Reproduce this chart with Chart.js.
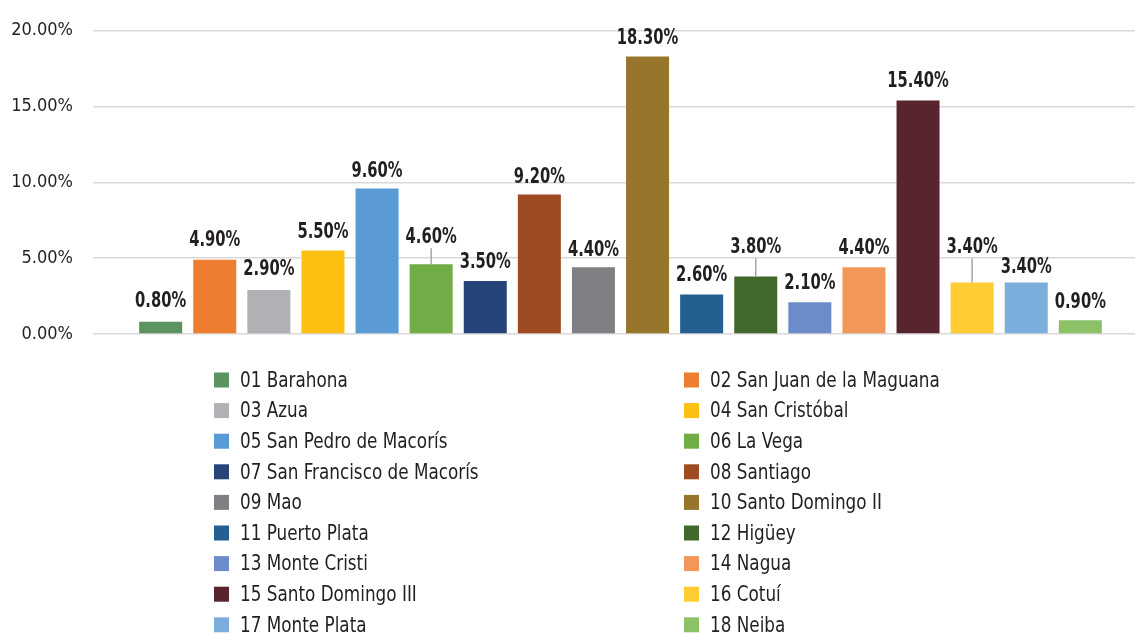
<!DOCTYPE html>
<html lang="es">
<head>
<meta charset="UTF-8">
<title>Distribución por regional</title>
<style>
  html, body { margin: 0; padding: 0; background: #ffffff; overflow: hidden; }
  .chartBox { position: relative; width: 1148px; height: 634px; }
</style>
</head>
<body>
<div class="chartBox">
  <canvas id="myChart"></canvas>
</div>

<script src="https://cdn.jsdelivr.net/npm/chart.js"></script>
<script>
  // datos
  const regionales = [
    '01 Barahona', '02 San Juan de la Maguana', '03 Azua', '04 San Cristóbal',
    '05 San Pedro de Macorís', '06 La Vega', '07 San Francisco de Macorís', '08 Santiago',
    '09 Mao', '10 Santo Domingo II', '11 Puerto Plata', '12 Higüey',
    '13 Monte Cristi', '14 Nagua', '15 Santo Domingo III', '16 Cotuí',
    '17 Monte Plata', '18 Neiba'
  ];
  const porcentajes = [0.8, 4.9, 2.9, 5.5, 9.6, 4.6, 3.5, 9.2, 4.4, 18.3, 2.6, 3.8, 2.1, 4.4, 15.4, 3.4, 3.4, 0.9];
  const yTicks = [0, 5, 10, 15, 20];

  const colores = [
    '#5B9461', '#ED7D31', '#B0B1B4', '#FCC012', '#5B9BD5', '#70AD47', '#264478', '#9E4A23',
    '#808084', '#97752B', '#255E91', '#43682B', '#6B8CC8', '#F2975A', '#58242D', '#FFCD33',
    '#7CAEDD', '#8CC168'
  ];
  // distancia de la etiqueta sobre la barra (las que llevan línea guía van más arriba)
  const subida = [20, 19, 20, 18, 17, 27, 18, 17, 17, 18, 19, 29, 19, 19, 19, 35, 15, 18];

  const FUENTE = "'DejaVu Sans Condensed', 'DejaVu Sans', sans-serif";
  const TEXTO = '#231F20';

  // texto estrechado para parecerse a la fuente condensada del original
  function textoEstrecho(ctx, txt, x, y, escala) {
    ctx.save();
    ctx.translate(x, y);
    ctx.scale(escala, 1);
    ctx.fillText(txt, 0, 0);
    ctx.restore();
  }

  const etiquetas = {
    id: 'etiquetas',
    afterDatasetsDraw(chart) {
      const ctx = chart.ctx;
      ctx.save();
      chart.data.datasets.forEach((ds, i) => {
        const bar = chart.getDatasetMeta(i).data[0];
        const yTxt = bar.y - subida[i];
        if (subida[i] > 24) {
          ctx.strokeStyle = '#A6A6A6';
          ctx.lineWidth = 1.5;
          ctx.beginPath();
          ctx.moveTo(bar.x, bar.y);
          ctx.lineTo(bar.x, yTxt + 11);
          ctx.stroke();
        }
        ctx.fillStyle = TEXTO;
        ctx.font = 'bold 21px ' + FUENTE;
        ctx.textAlign = 'center';
        ctx.textBaseline = 'middle';
        textoEstrecho(ctx, ds.data[0].toFixed(2) + '%', bar.x, yTxt, 0.78);
      });
      ctx.restore();
    }
  };

  // leyenda en dos columnas bajo el gráfico
  const leyenda = {
    id: 'leyenda',
    afterDraw(chart) {
      const ctx = chart.ctx;
      ctx.save();
      ctx.font = '22px ' + FUENTE;
      ctx.textBaseline = 'middle';
      ctx.textAlign = 'left';
      chart.data.datasets.forEach((ds, i) => {
        const x = (i % 2 === 0) ? 214 : 684;
        const y = 380 + Math.floor(i / 2) * 30.6;
        ctx.fillStyle = ds.backgroundColor;
        ctx.fillRect(x, y - 7.5, 15, 15);
        ctx.fillStyle = TEXTO;
        textoEstrecho(ctx, ds.label, x + 26, y + 1, 0.85);
      });
      ctx.restore();
    }
  };

  const datasets = regionales.map((r, i) => ({
    label: r,
    data: [porcentajes[i]],
    backgroundColor: colores[i],
    borderWidth: 0,
    categoryPercentage: 0.923,
    barPercentage: 0.795
  }));

  new Chart(document.getElementById('myChart'), {
    type: 'bar',
    data: { labels: [''], datasets: datasets },
    options: {
      responsive: true,
      maintainAspectRatio: false,
      animation: false,
      layout: { padding: { top: 30, bottom: 300, right: 0, left: 0 } },
      plugins: {
        legend: { display: false },
        tooltip: { enabled: false }
      },
      scales: {
        x: { display: false },
        y: {
          min: 0,
          max: 20,
          afterFit(scale) { scale.width = 93; },
          afterBuildTicks(scale) { scale.ticks = yTicks.map(v => ({ value: v })); },
          border: { display: false },
          grid: { color: '#D9D9D9', lineWidth: 1.5, drawTicks: false },
          ticks: {
            padding: 20,
            color: TEXTO,
            font: { family: FUENTE, size: 18 },
            callback: v => v.toFixed(2) + '%'
          }
        }
      }
    },
    plugins: [etiquetas, leyenda]
  });
</script>
</body>
</html>
